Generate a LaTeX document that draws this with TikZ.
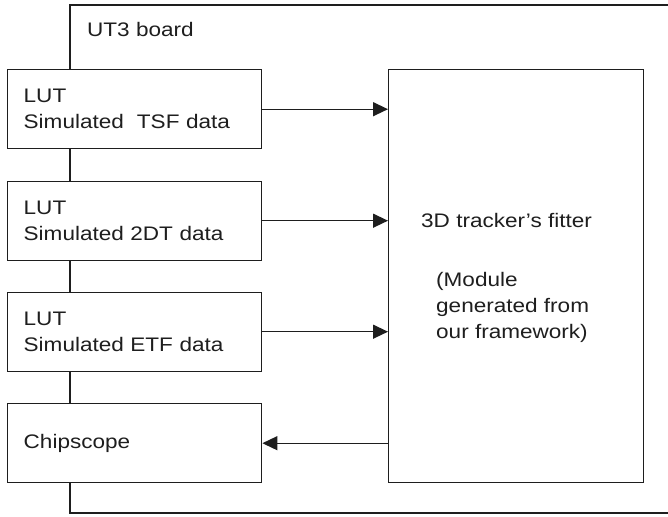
\documentclass[tikz,border=0pt]{standalone}
\usepackage{fontspec}
\setmainfont[FakeStretch=1.15]{Liberation Sans}
\usetikzlibrary{arrows.meta}
\definecolor{ink}{HTML}{1E1E1E}
\begin{document}
\begin{tikzpicture}[x=1pt,y=-1pt,
  every node/.style={font=\fontsize{19.6pt}{26pt}\selectfont, text=ink},
  blk/.style={draw=ink, line width=1.4pt, fill=white, minimum width=254pt, minimum height=79pt,
    text width=222pt, align=left, inner xsep=16pt, inner ysep=0pt, anchor=north west},
  fit/.style={draw=ink, line width=1.4pt, fill=white, minimum width=255pt, minimum height=413pt,
    inner sep=0pt, anchor=north west},
  txt/.style={align=left, inner sep=0pt, anchor=west},
  conn/.style={draw=ink, line width=1.4pt},
  arr/.style={conn, -{Triangle[length=15pt,width=14pt]}}]
\useasboundingbox (0,0) rectangle (668,516);
% board outline
\coordinate (bt) at (668,5);
\coordinate (bl) at (70,5);
\coordinate (bb) at (70,513);
\coordinate (br) at (668,513);
\draw[conn] (bt) -- (bl) -- (bb) -- (br);
\node[txt, anchor=base west] (board) at (87,36.7) {UT3 board};
% left blocks
\node[blk] (tsf) at (7,69) {LUT\\Simulated\ \ TSF data};
\node[blk] (dt) at (7,180.5) {LUT\\Simulated 2DT data};
\node[blk] (etf) at (7,291.5) {LUT\\Simulated ETF data};
\node[blk] (chip) at (7,403) {Chipscope};
% fitter
\node[fit] (fitter) at (388,69) {};
\node[txt] (ftitle) at (421,220) {3D tracker’s fitter};
\node[txt, anchor=north west] (fnote) at (436,272) {(Module\\generated from\\our framework)};
% arrows
\draw[arr] (tsf.east) -- (tsf.east -| fitter.west);
\draw[arr] (dt.east) -- (dt.east -| fitter.west);
\draw[arr] (etf.east) -- (etf.east -| fitter.west);
\draw[arr] (chip.east -| fitter.west) -- (chip.east);
\end{tikzpicture}
\end{document}
